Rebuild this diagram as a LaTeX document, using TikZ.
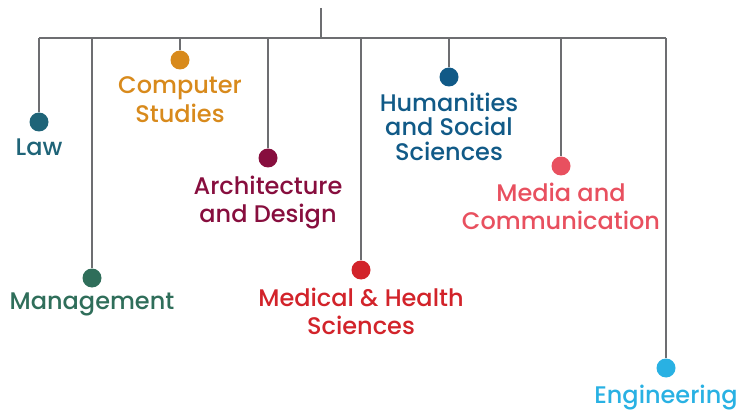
\documentclass[tikz,border=0pt]{standalone}
\usepackage{fontspec}
\setmainfont{Poppins Medium}
\usetikzlibrary{positioning}
\definecolor{linegray}{HTML}{6D6E71}
\definecolor{lawcol}{HTML}{1F6478}
\definecolor{mgmtcol}{HTML}{2F6E5A}
\definecolor{compcol}{HTML}{D88A1C}
\definecolor{archcol}{HTML}{870E3E}
\definecolor{medcol}{HTML}{D2232A}
\definecolor{humcol}{HTML}{115A87}
\definecolor{mediacol}{HTML}{E8505F}
\definecolor{engcol}{HTML}{29B1E3}
\tikzset{
  stem/.style={draw=linegray, line width=2.8pt},
  dot/.style={circle, fill=#1, inner sep=0pt, minimum size=19pt},
  lbl/.style={text=#1, font=\fontsize{24}{28.5}\selectfont, align=center, inner sep=0pt}
}
\begin{document}
\begin{tikzpicture}[x=1pt, y=-1pt]
            \useasboundingbox (0,0) rectangle (755,414);

            % Drawing stem and bar
            \coordinate (root) at (321,8);
            \coordinate (hub) at (321,38);
            \coordinate (barL) at (39,38);
            \coordinate (barR) at (666,38);
            \draw [stem] (root) -- (hub);%
            \draw [stem] (barL) -- (barR);%

            % Marking branch Law
            \node [dot=lawcol] (law) at (39,122) {};
            \node [lbl=lawcol, below=7pt of law] (lawtxt) {Law};
            \draw [stem] (barL) -- (law);%

            % Marking branch Management
            \coordinate (mgmtj) at (92,38);
            \node [dot=mgmtcol] (mgmt) at (92,278) {};
            \node [lbl=mgmtcol, below=5pt of mgmt] (mgmttxt) {Management};
            \draw [stem] (mgmtj) -- (mgmt);%

            % Marking branch Computer Studies
            \coordinate (compj) at (180,38);
            \node [dot=compcol] (comp) at (180,60) {};
            \node [lbl=compcol, below=7pt of comp] (comptxt) {Computer\\Studies};
            \draw [stem] (compj) -- (comp);%

            % Marking branch Architecture and Design
            \coordinate (archj) at (268,38);
            \node [dot=archcol] (arch) at (268,158) {};
            \node [lbl=archcol, below=8pt of arch] (archtxt) {Architecture\\and Design};
            \draw [stem] (archj) -- (arch);%

            % Marking branch Medical & Health Sciences
            \coordinate (medj) at (361,38);
            \node [dot=medcol] (med) at (361,270) {};
            \node [lbl=medcol, below=8pt of med] (medtxt) {Medical \& Health\\Sciences};
            \draw [stem] (medj) -- (med);%

            % Marking branch Humanities and Social Sciences
            \coordinate (humj) at (449,38);
            \node [dot=humcol] (hum) at (449,77) {};
            \node [lbl=humcol, below=6pt of hum, font=\fontsize{24}{24.5}\selectfont] (humtxt) {Humanities\\and Social\\Sciences};
            \draw [stem] (humj) -- (hum);%

            % Marking branch Media and Communication
            \coordinate (mediaj) at (561,38);
            \node [dot=mediacol] (media) at (561,166) {};
            \node [lbl=mediacol, below=7pt of media] (mediatxt) {Media and\\Communication};
            \draw [stem] (mediaj) -- (media);%

            % Marking branch Engineering
            \node [dot=engcol] (eng) at (666,368) {};
            \node [lbl=engcol, below=7pt of eng] (engtxt) {Engineering};
            \draw [stem] (barR) -- (eng);%
\end{tikzpicture}
\end{document}
